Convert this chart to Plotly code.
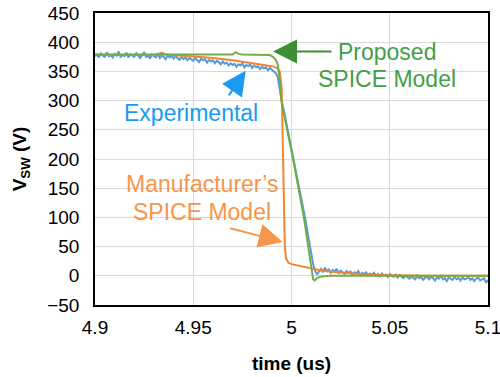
import plotly.graph_objects as go

# Experimental: sampled every 0.001 us from 4.900 to 5.100
exp_t0 = 4.900
exp_dt = 0.001
exp_v = [
    376, 379, 374, 381, 377, 375, 383, 376, 378, 374,
    380, 377, 384, 375, 378, 376, 382, 374, 379, 377,
    375, 381, 376, 373, 378, 383, 375, 377, 372, 379,
    376, 374, 380, 373, 377, 375, 371, 378, 374, 376,
    372, 377, 373, 370, 375, 371, 374, 369, 373, 371,
    368, 373, 370, 366, 372, 369, 371, 365, 370, 367,
    369, 364, 368, 366, 362, 367, 363, 365, 360, 364,
    361, 363, 358, 362, 360, 364, 357, 361, 359, 362,
    356, 360, 357, 359, 354, 358, 355, 357, 352, 356,
    353, 350, 347, 340, 318, 300, 285, 268, 252, 236,
    220, 205, 188, 170, 152, 135, 117, 98, 78, 57,
    38, 20, 8, 3, 7, 12, 6, 14, 8, 11,
    5, 10, 7, 12, 4, 9, 6, 3, 8, 5,
    7, 2, 6, 4, 8, 1, 5, 3, 6, 0,
    4, 2, 5, 0, 3, -1, 4, 1, 2, -2,
    3, 0, -2, 2, -3, 1, -1, -4, 0, -2,
    -5, -1, -3, -6, 0, -4, -2, -7, -3, -1,
    -6, -2, -4, -8, -3, -5, 0, -6, -4, -9,
    -3, -5, -7, -2, -6, -4, -8, -3, -6, -5,
    -2, -7, -4, -9, -5, -3, -8, -6, -4, -12, -7,
]
exp_t = [round(exp_t0 + exp_dt * i, 4) for i in range(len(exp_v))]

man_t = [4.900, 4.930, 4.934, 4.936, 4.940, 4.950, 4.960, 4.970, 4.980, 4.985,
         4.990, 4.9925, 4.994, 4.995, 4.9955, 4.996, 4.9966, 4.9972, 4.9985,
         5.000, 5.005, 5.010, 5.015, 5.020, 5.030, 5.040, 5.050, 5.070, 5.100]
man_v = [378, 378, 382, 379, 378, 376, 373, 369, 364, 361,
         359, 356, 350, 322, 250, 150, 50, 30, 22,
         20, 16, 12, 9, 7, 4, 2, 1, 0, 0]

prop_t = [4.900, 4.970, 4.9715, 4.973, 4.975, 4.985, 4.989, 4.9905, 4.992,
          4.993, 4.994, 4.9948, 5.0008, 5.0063, 5.0095, 5.0110, 5.0118,
          5.013, 5.015, 5.020, 5.100]
prop_v = [379, 379, 383, 380, 379, 379, 378, 375, 370,
          362, 335, 300, 200, 100, 30, -6, -8,
          -4, -1, 0, 0]

x_ticks = [4.9, 4.95, 5.0, 5.05, 5.1]
x_tick_text = ["4.9", "4.95", "5", "5.05", "5.1"]
y_ticks = [-50, 0, 50, 100, 150, 200, 250, 300, 350, 400, 450]

BLUE = "#5B9BD5"
ORANGE = "#F08535"
GREEN = "#70AD47"
FONT = "Liberation Sans, Arial, sans-serif"

fig = go.Figure()
fig.add_trace(go.Scatter(x=exp_t, y=exp_v, mode="lines",
                         line=dict(color=BLUE, width=2), name="Experimental"))
fig.add_trace(go.Scatter(x=man_t, y=man_v, mode="lines",
                         line=dict(color=ORANGE, width=2), name="Manufacturer"))
fig.add_trace(go.Scatter(x=prop_t, y=prop_v, mode="lines",
                         line=dict(color=GREEN, width=2), name="Proposed"))

anns = []
anns.append(dict(x=5.0486, y=383, text="Proposed", font=dict(family=FONT, size=23, color="#43A047"),
                 showarrow=False, xref="x", yref="y"))
anns.append(dict(x=5.0486, y=337, text="SPICE Model", font=dict(family=FONT, size=23, color="#43A047"),
                 showarrow=False, xref="x", yref="y"))
anns.append(dict(x=4.9489, y=279, text="Experimental", font=dict(family=FONT, size=23, color="#1A9BF2"),
                 showarrow=False, xref="x", yref="y"))
anns.append(dict(x=4.9547, y=158, text="Manufacturer\u2019s", font=dict(family=FONT, size=23, color="#F7964A"),
                 showarrow=False, xref="x", yref="y"))
anns.append(dict(x=4.9547, y=110, text="SPICE Model", font=dict(family=FONT, size=23, color="#F7964A"),
                 showarrow=False, xref="x", yref="y"))
# Arrows
anns.append(dict(x=4.9906, y=384, ax=60, ay=0, text="", showarrow=True,
                 arrowhead=2, arrowsize=2.4, arrowwidth=2, arrowcolor="#3E8E35",
                 xref="x", yref="y"))
anns.append(dict(x=4.9767, y=351, ax=-18, ay=26, text="", showarrow=True,
                 arrowhead=2, arrowsize=2.4, arrowwidth=2, arrowcolor="#1A9BF2",
                 xref="x", yref="y"))
anns.append(dict(x=4.9955, y=58, ax=-54, ay=-14, text="", showarrow=True,
                 arrowhead=2, arrowsize=2.4, arrowwidth=2, arrowcolor="#F7964A",
                 xref="x", yref="y"))

fig.update_layout(
    width=500, height=377,
    margin=dict(l=95, r=12, t=13, b=72),
    paper_bgcolor="white", plot_bgcolor="white",
    showlegend=False,
    font=dict(family=FONT, size=19, color="#000000"),
    annotations=anns,
    xaxis=dict(range=[4.9, 5.1], tickvals=x_ticks, ticktext=x_tick_text,
               showgrid=True, gridcolor="#D9D9D9", gridwidth=1,
               showline=True, linecolor="black", linewidth=1.5, mirror=True,
               ticks="", zeroline=False, automargin=False, ticklabelstandoff=4,
               ticklabeloverflow="allow",
               title=dict(text="<b>time (us)</b>", font=dict(size=19), standoff=20)),
    yaxis=dict(range=[-50, 450], tickvals=y_ticks,
               showgrid=True, gridcolor="#D9D9D9", gridwidth=1,
               showline=True, linecolor="black", linewidth=1.5, mirror=True,
               ticks="", zeroline=False, automargin=False, ticklabelstandoff=10,
               ticklabeloverflow="allow",
               title=dict(text="<b>V<sub>SW</sub> (V)</b>", font=dict(size=19), standoff=16)),
)

fig.write_html("out.html")
